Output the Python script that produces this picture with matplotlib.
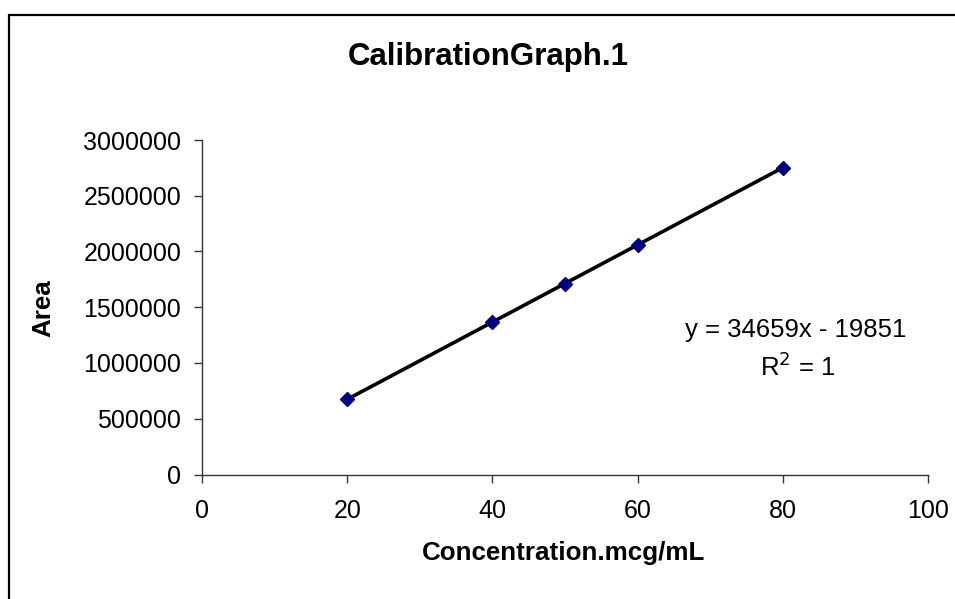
import numpy as np
import matplotlib
matplotlib.use("Agg")
from matplotlib import pyplot as plt
from matplotlib.patches import Rectangle

# Data
conc = [20, 40, 50, 60, 80]
area = [673000, 1370000, 1713000, 2056000, 2753000]
x_ticks = [0, 20, 40, 60, 80, 100]
y_ticks = [0, 500000, 1000000, 1500000, 2000000, 2500000, 3000000]
eq_text = "y = 34659x - 19851"
r2_text = "R$^2$ = 1"

plt.rcParams['font.family'] = ['Liberation Sans', 'DejaVu Sans']

fig = plt.figure(figsize=(9.55, 5.99), dpi=100)
ax = fig.add_axes([202/955, 1-474.5/599, (928-202)/955, (474.5-140)/599])

# outer chart border (only top/left visible in the reference)
fig.patches.append(Rectangle((9/955, -0.05), 1.2, 1-15/599+0.05, transform=fig.transFigure,
                             fill=False, edgecolor='black', linewidth=1.6, clip_on=False))

# linear trendline over the data range
k, b = np.polyfit(conc, area, 1)
xs = np.array([min(conc), max(conc)])
ax.plot(xs, k*xs + b, color='black', linewidth=2.6, zorder=2)
ax.plot(conc, area, linestyle='none', marker='D', markersize=7, color='#000080', zorder=3)

ax.set_xlim(0, 100)
ax.set_ylim(0, 3000000)
ax.set_xticks(x_ticks)
ax.set_yticks(y_ticks)
ax.set_xticklabels([str(v) for v in x_ticks])
ax.set_yticklabels([str(v) for v in y_ticks])
ax.tick_params(direction='out', length=6, width=1, labelsize=18, pad=9, color='#333333')
ax.tick_params(axis='x', pad=12)
for s in ['top', 'right']:
    ax.spines[s].set_visible(False)
for s in ['left', 'bottom']:
    ax.spines[s].set_color('#333333')
    ax.spines[s].set_linewidth(1)

fig.text(488/955, 1-56.5/599, "CalibrationGraph.1", ha='center', va='center', fontsize=22.5, fontweight='bold')
fig.text(564/955, 1-553/599, "Concentration.mcg/mL", ha='center', va='center', fontsize=18.7, fontweight='bold')
fig.text(43/955, 1-308/599, "Area", ha='center', va='center', fontsize=18.7, fontweight='bold', rotation=90)

fig.text(796/955, 1-330/599, eq_text, ha='center', va='center', fontsize=18.5)
fig.text(798/955, 1-367/599, r2_text, ha='center', va='center', fontsize=18.5)

fig.savefig("out.png", dpi=100, facecolor='white')
